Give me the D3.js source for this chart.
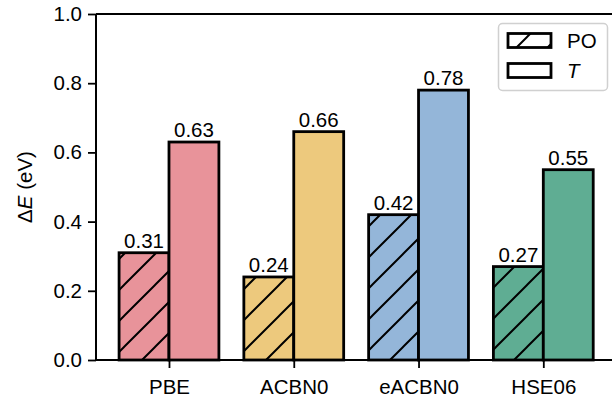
<!DOCTYPE html>
<html><head><meta charset="utf-8">
<script src="https://cdn.jsdelivr.net/npm/d3@7"></script>
<style>body{margin:0;background:#fff}svg{display:block;font-family:"Liberation Sans",Arial,sans-serif}</style>
</head><body>
<svg id="c" width="612" height="404"></svg>
<script>
const categories = ["PBE", "ACBN0", "eACBN0", "HSE06"];
const poValues = [0.31, 0.24, 0.42, 0.27];
const tValues = [0.63, 0.66, 0.78, 0.55];
const colors = ["#E8939A", "#EDC97D", "#94B6D9", "#5FAD93"];
const yTicks = [0.0, 0.2, 0.4, 0.6, 0.8, 1.0];
const seriesNames = ["PO", "T"];

(function () {
const svg = d3.select("#c");
const mLeft = 96, mTop = 14, mBottom = 360, mRight = 616.3;
const x = d3.scaleLinear().domain([-0.585, 3.585]).range([mLeft, mRight]);
const y = d3.scaleLinear().domain([0, 1]).range([mBottom, mTop]);
const bw = 0.4;
const fs = 20.5;

const defs = svg.append("defs");
const P = 31;
const pat = defs.append("pattern").attr("id", "hatch").attr("patternUnits", "userSpaceOnUse")
  .attr("width", P).attr("height", P).attr("x", 0).attr("y", 6);
pat.append("path").attr("d", `M0,${P} L${P},0 M-${P/2},${P/2} L${P/2},-${P/2} M${P/2},${P*1.5} L${P*1.5},${P/2}`)
  .attr("stroke", "#000").attr("stroke-width", 2).attr("fill", "none");

const g = svg.append("g");
categories.forEach((c, i) => {
  const x0 = x(i - bw), x1 = x(i), x2 = x(i + bw);
  g.append("rect").attr("x", x0).attr("y", y(poValues[i])).attr("width", x1 - x0).attr("height", y(0) - y(poValues[i]))
    .attr("fill", colors[i]);
  g.append("rect").attr("x", x0).attr("y", y(poValues[i])).attr("width", x1 - x0).attr("height", y(0) - y(poValues[i]))
    .attr("fill", "url(#hatch)").attr("stroke", "#000").attr("stroke-width", 2.8);
  g.append("rect").attr("x", x1).attr("y", y(tValues[i])).attr("width", x2 - x1).attr("height", y(0) - y(tValues[i]))
    .attr("fill", colors[i]).attr("stroke", "#000").attr("stroke-width", 2.8);
  g.append("text").attr("x", (x0 + x1) / 2).attr("y", y(poValues[i]) - 5).attr("text-anchor", "middle")
    .attr("font-size", fs).attr("fill", "#000").text(d3.format(".2f")(poValues[i]));
  g.append("text").attr("x", (x1 + x2) / 2).attr("y", y(tValues[i]) - 5).attr("text-anchor", "middle")
    .attr("font-size", fs).attr("fill", "#000").text(d3.format(".2f")(tValues[i]));
});

const yAxis = d3.axisLeft(y).tickValues(yTicks).tickFormat(d3.format(".1f")).tickSize(8).tickPadding(6);
const ya = svg.append("g").attr("transform", `translate(${mLeft},0)`).call(yAxis);
const xAxis = d3.axisBottom(x).tickValues(d3.range(categories.length)).tickFormat(i => categories[i]).tickSize(8).tickPadding(11);
const xa = svg.append("g").attr("transform", `translate(0,${mBottom})`).call(xAxis);
[ya, xa].forEach(a => {
  a.select(".domain").remove();
  a.selectAll("line").attr("stroke", "#000").attr("stroke-width", 1.8);
  a.selectAll("text").attr("font-size", fs).attr("fill", "#000").attr("font-family", "Liberation Sans, Arial, sans-serif");
});
svg.append("line").attr("x1", mLeft).attr("x2", mLeft).attr("y1", mTop).attr("y2", mBottom).attr("stroke", "#000").attr("stroke-width", 2);
svg.append("line").attr("x1", mLeft).attr("x2", mRight).attr("y1", mBottom).attr("y2", mBottom).attr("stroke", "#000").attr("stroke-width", 2);
svg.append("line").attr("x1", mLeft).attr("x2", mRight).attr("y1", mTop).attr("y2", mTop).attr("stroke", "#000").attr("stroke-width", 2);

const yl = svg.append("text").attr("transform", `translate(32,${(mTop + mBottom) / 2}) rotate(-90)`)
  .attr("text-anchor", "middle").attr("font-size", fs).attr("fill", "#000");
yl.append("tspan").text("Δ");
yl.append("tspan").attr("font-style", "italic").text("E");
yl.append("tspan").text(" (eV)");

const lg = svg.append("g");
lg.append("rect").attr("x", 498.5).attr("y", 23.5).attr("width", 109).attr("height", 67).attr("rx", 4)
  .attr("fill", "#fff").attr("fill-opacity", 0.8).attr("stroke", "#d0d0d0").attr("stroke-width", 1.5);
seriesNames.forEach((s, k) => {
  const yy = 33.5 + k * 30;
  lg.append("rect").attr("x", 508).attr("y", yy).attr("width", 43).attr("height", 14)
    .attr("fill", k === 0 ? "url(#hatch)" : "none").attr("stroke", "#000").attr("stroke-width", 2.8);
  const t = lg.append("text").attr("x", 567).attr("y", yy + 14.5).attr("font-size", fs).attr("fill", "#000").text(s);
  if (k === 1) t.attr("font-style", "italic");
});
})();
</script>
</body></html>
